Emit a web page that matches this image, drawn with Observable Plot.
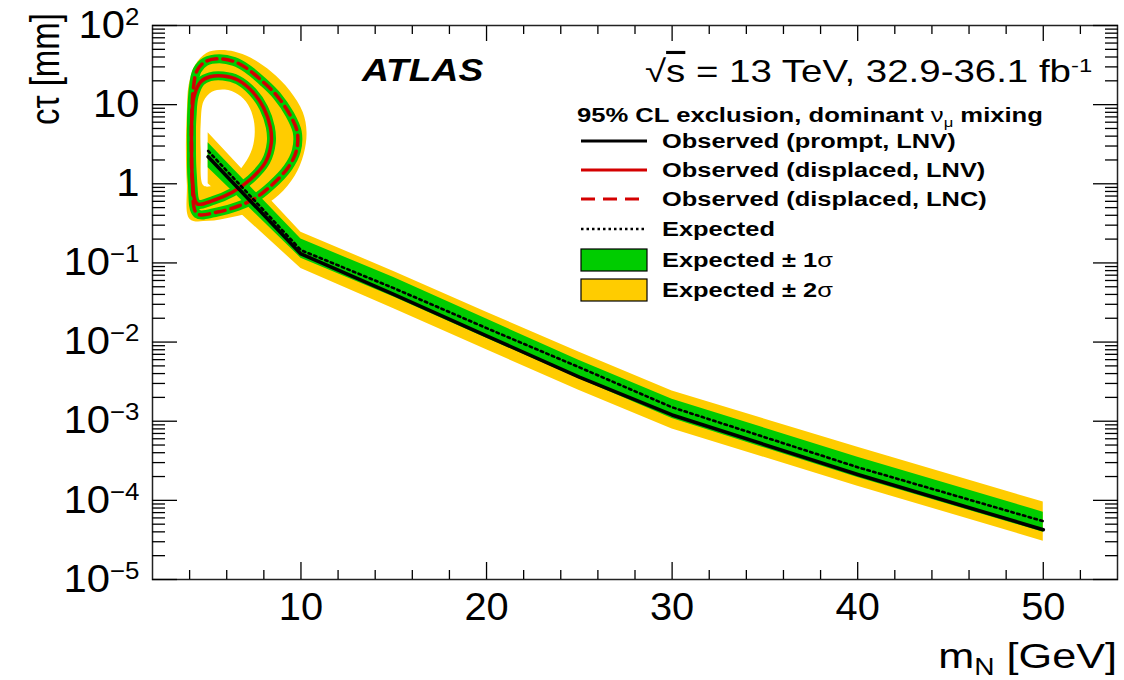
<!DOCTYPE html>
<html><head><meta charset="utf-8">
<script src="https://cdn.jsdelivr.net/npm/d3@7"></script>
<script src="https://cdn.jsdelivr.net/npm/@observablehq/plot@0.6"></script>
<style>
body{margin:0;background:#fff;}
#wrap{position:relative;width:1124px;height:680px;overflow:hidden;background:#fff}
#wrap svg{position:absolute;left:0;top:0}
#ov{pointer-events:none}
</style></head><body><div id="wrap"></div>
<script>
// ---------- data ----------
// Prompt search (m_N in GeV, c*tau in mm)
const promptMass = [5, 10, 15, 20, 25, 30, 40, 50];
const obsPrompt  = [2.2, 0.13, 0.040, 0.012, 0.0036, 0.0012, 0.000212, 0.0000425];
const expPrompt  = [2.6, 0.145, 0.048, 0.015, 0.0048, 0.0015, 0.000262, 0.0000545];
const exp1Lo     = [1.6, 0.115, 0.037, 0.0112, 0.00343, 0.00108, 0.000194, 0.0000396];
const exp1Hi     = [3.3, 0.20, 0.0655, 0.0195, 0.00585, 0.0019, 0.00035, 0.000071];
const exp2Lo     = [1.0, 0.085, 0.0263, 0.008, 0.00244, 0.0008, 0.000151, 0.0000305];
const exp2Hi     = [4.4, 0.245, 0.078, 0.0238, 0.00745, 0.0024, 0.000469, 0.000095];

// Displaced search contours (closed curves)
const lnvMass  = [4.4, 4.15, 4.1, 4.12, 4.25, 4.6, 5.1, 5.8, 6.6, 7.4, 8.0, 8.35, 8.4, 8.1, 7.3, 6.3, 5.3];
const lnvCtau  = [0.56, 1.2, 3, 7, 13, 19.5, 22.5, 23, 20.5, 14.5, 9, 5.2, 3.3, 1.9, 1.15, 0.78, 0.62];
const lncMass  = [4.4, 4.15, 4.1, 4.12, 4.2, 4.4, 4.85, 5.6, 6.4, 7.1, 8.0, 8.7, 9.4, 9.8, 9.75, 9.3, 8.4, 7.5, 6.6, 5.5];
const lncCtau  = [0.42, 1.0, 3, 8, 16, 27, 35, 38, 35, 28.5, 19, 13, 7.5, 4.5, 2.6, 1.6, 0.95, 0.65, 0.52, 0.44];
const band2OutMass = [4.0, 3.85, 3.8, 3.85, 3.95, 4.3, 4.9, 5.6, 6.4, 7.3, 8.4, 9.4, 10.1, 10.3, 10.15, 9.65, 8.8, 7.6, 6.3, 5.0];
const band2OutCtau = [0.36, 1.0, 3, 8, 18, 32, 45, 49, 47, 39, 26, 15, 8, 4.5, 2.4, 1.25, 0.72, 0.47, 0.38, 0.34];
const band2InMass  = [4.75, 4.6, 4.6, 4.75, 5.2, 5.9, 6.6, 7.15, 7.45, 7.5, 7.3, 6.8, 6.1, 5.3];
const band2InCtau  = [0.95, 2.5, 6, 11, 14.5, 15.5, 13.5, 10, 6.5, 4, 2.5, 1.6, 1.15, 0.95];

// Axes
const xMajor = [10, 20, 30, 40, 50];
const xMinor = [4, 6, 8, 12, 14, 16, 18, 22, 24, 26, 28, 32, 34, 36, 38, 42, 44, 46, 48, 52];
const yMajor = [1e-5, 1e-4, 1e-3, 1e-2, 1e-1, 1, 10, 100];
const yTickLabels = ["10^-5", "10^-4", "10^-3", "10^-2", "10^-1", "1", "10", "10^2"];
const yMinor = [];
for (let e = -5; e < 2; e++) for (let k = 2; k <= 9; k++) yMinor.push(k * Math.pow(10, e));

// ---------- build ----------
const YEL = "#ffcc00", GRN = "#00cc00", RED = "#d40000";
const FONT = '"Liberation Sans", Arial, Helvetica, sans-serif';
const SX = 1.24;   // horizontal text stretch for annotations
const SXY = 1.1;   // y tick labels
const SXX = 1.02;  // x tick labels

const prompt = promptMass.map((m, i) => ({m, obs: obsPrompt[i], exp: expPrompt[i], lo1: exp1Lo[i], hi1: exp1Hi[i], lo2: exp2Lo[i], hi2: exp2Hi[i]}));
const pts = (ms, cs) => ms.map((m, i) => ({m, c: cs[i]}));
const lnv = pts(lnvMass, lnvCtau), lnc = pts(lncMass, lncCtau);
const outer = pts(band2OutMass, band2OutCtau), inner = pts(band2InMass, band2InCtau);
const yLab = new Map(yMajor.map((v, i) => [v, yTickLabels[i]]));
const closed = "catmull-rom-closed";
const none = () => "";

const chart = Plot.plot({
  width: 1124, height: 680,
  marginLeft: 152, marginRight: 7, marginTop: 25, marginBottom: 101,
  style: {fontFamily: FONT, background: "white", color: "black"},
  x: {domain: [2, 54], label: null},
  y: {type: "log", domain: [1e-5, 100], label: null},
  marks: [
    Plot.line(outer, {x: "m", y: "c", fill: YEL, stroke: "none", curve: closed}),
    Plot.line(inner, {x: "m", y: "c", fill: "white", stroke: "none", curve: closed}),
    Plot.areaY(prompt, {x: "m", y1: "lo2", y2: "hi2", fill: YEL}),
    Plot.areaY(prompt, {x: "m", y1: "lo1", y2: "hi1", fill: GRN}),
    Plot.line(lnc, {x: "m", y: "c", stroke: GRN, strokeWidth: 9, curve: closed}),
    Plot.line(lnv, {x: "m", y: "c", stroke: GRN, strokeWidth: 9, curve: closed}),
    Plot.line(lnc, {x: "m", y: "c", stroke: RED, strokeWidth: 3.5, strokeDasharray: "10,6", curve: closed}),
    Plot.line(lnv, {x: "m", y: "c", stroke: RED, strokeWidth: 3.5, curve: closed}),
    Plot.line(prompt, {x: "m", y: "exp", stroke: "black", strokeWidth: 2.6, strokeDasharray: "2.5,3.5"}),
    Plot.line(prompt, {x: "m", y: "obs", stroke: "black", strokeWidth: 3.6}),
    Plot.frame({stroke: "#222", strokeWidth: 1.5}),
    // tick labels
    Plot.axisY(yMajor, {anchor: "left", tickSize: 0, tickPadding: 13, tickFormat: d => yLab.get(d), fontSize: 38, label: null}),
    Plot.axisX(xMajor, {anchor: "bottom", tickSize: 0, tickPadding: 13, fontSize: 39, label: null}),
    // inward ticks
    Plot.axisY(yMajor, {anchor: "left", tickSize: -25, tickFormat: none, fill: "none", label: null, strokeWidth: 1.3}),
    Plot.axisY(yMinor, {anchor: "left", tickSize: -13, tickFormat: none, fill: "none", label: null, strokeWidth: 1.3}),
    Plot.axisY(yMajor, {anchor: "right", tickSize: -25, tickFormat: none, fill: "none", label: null, strokeWidth: 1.3}),
    Plot.axisY(yMinor, {anchor: "right", tickSize: -13, tickFormat: none, fill: "none", label: null, strokeWidth: 1.3}),
    Plot.axisX(xMajor, {anchor: "bottom", tickSize: -17, tickFormat: none, fill: "none", label: null, strokeWidth: 1.3}),
    Plot.axisX(xMinor, {anchor: "bottom", tickSize: -9, tickFormat: none, fill: "none", label: null, strokeWidth: 1.3}),
    Plot.axisX(xMajor, {anchor: "top", tickSize: -15, tickFormat: none, fill: "none", label: null, strokeWidth: 1.3}),
    Plot.axisX(xMinor, {anchor: "top", tickSize: -8, tickFormat: none, fill: "none", label: null, strokeWidth: 1.3})
  ]
});
document.getElementById("wrap").appendChild(chart);

// superscripts + stretch on tick labels
const svg = d3.select(chart);
function stretchLabels(sel, k) {
  svg.selectAll(sel).each(function () {
    const t = d3.select(this);
    const tr = t.attr("transform");
    if (tr && tr.includes("translate")) t.attr("transform", tr + ` scale(${k},1)`);
    const s = this.textContent;
    if (s.includes("^")) {
      const [b, e] = s.split("^");
      t.text(null);
      t.append("tspan").text(b);
      t.append("tspan").attr("dy", "-0.55em").attr("font-size", "0.62em").text(e.replace("-", "\u2212"));
    }
  });
}
stretchLabels('g[aria-label="y-axis tick label"] text', SXY);
stretchLabels('g[aria-label="x-axis tick label"] text', SXX);

// ---------- annotations / legend overlay ----------
const ov = d3.select("#wrap").append("svg").attr("id", "ov")
  .attr("width", 1124).attr("height", 680)
  .style("font-family", FONT);

function txt(x, y, opts = {}) {
  return ov.append("text")
    .attr("transform", `translate(${x},${y}) scale(${opts.sx || SX},1)${opts.rot ? ` rotate(${opts.rot})` : ""}`)
    .attr("font-size", opts.fs || 20)
    .attr("font-weight", opts.fw || "normal")
    .attr("font-style", opts.fst || "normal")
    .attr("text-anchor", opts.anchor || "start")
    .attr("fill", "black");
}

// ATLAS
txt(362, 81, {fs: 31, fw: "bold", fst: "italic", sx: 1.2}).text("ATLAS");
// sqrt(s) line
{
  const t = txt(645, 82, {fs: 31});
  t.append("tspan").text("\u221A");
  t.append("tspan").attr("text-decoration", "overline").text("s");
  t.append("tspan").text(" = 13 TeV, 32.9-36.1 fb");
  t.append("tspan").attr("dy", "-0.5em").attr("font-size", "0.62em").text("-1");
}
// legend title
{
  const t = txt(577, 122, {fs: 20.5, fw: "bold", sx: 1.25});
  t.append("tspan").text("95% CL exclusion, dominant ");
  t.append("tspan").attr("font-weight", "normal").text("\u03BD");
  t.append("tspan").attr("font-weight", "normal").attr("font-size", "0.65em").attr("dy", "0.35em").text("\u03BC");
  t.append("tspan").attr("dy", "-0.23em").text(" mixing");
}
const legendRows = [
  {label: "Observed (prompt, LNV)", kind: "line", color: "black", dash: null, w: 3.2},
  {label: "Observed (displaced, LNV)", kind: "line", color: RED, dash: null, w: 3.2},
  {label: "Observed (displaced, LNC)", kind: "line", color: RED, dash: "14,8", w: 3.2},
  {label: "Expected", kind: "line", color: "black", dash: "2.5,3", w: 2.4},
  {label: "Expected \u00B1 1\u03C3", kind: "box", color: GRN},
  {label: "Expected \u00B1 2\u03C3", kind: "box", color: YEL}
];
const rowY = [141, 170, 199, 229, 260, 290];
legendRows.forEach((r, i) => {
  const cy = rowY[i];
  if (r.kind === "line") {
    const l = ov.append("line").attr("x1", 581).attr("x2", 647).attr("y1", cy).attr("y2", cy)
      .attr("stroke", r.color).attr("stroke-width", r.w);
    if (r.dash) l.attr("stroke-dasharray", r.dash);
  } else {
    ov.append("rect").attr("x", 581).attr("y", cy - 11).attr("width", 66).attr("height", 22)
      .attr("fill", r.color).attr("stroke", "black").attr("stroke-width", 1.2);
  }
  const t = txt(662, cy + 7.3, {fs: 20.5, fw: "bold"});
  if (r.label.includes("\u03C3")) {
    const parts = r.label.split("\u03C3");
    t.append("tspan").text(parts[0]);
    t.append("tspan").attr("font-weight", "normal").text("\u03C3");
  } else t.text(r.label);
});

// axis titles
{
  const t = txt(1117, 668, {fs: 36, anchor: "end", sx: 1.2});
  t.append("tspan").text("m");
  t.append("tspan").attr("font-size", "0.65em").attr("dy", "0.3em").text("N");
  t.append("tspan").attr("dy", "-0.2em").text(" [GeV]");
}
{
  const t = txt(59, 13, {fs: 33, anchor: "end", rot: -90, sx: 1.22});
  t.text("c\u03C4 [mm]");
}
</script></body></html>
